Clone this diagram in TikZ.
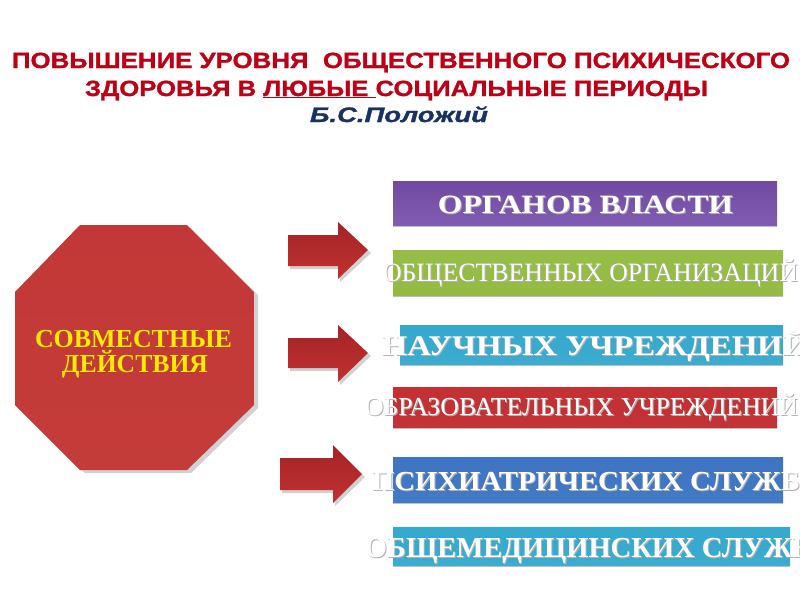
\documentclass[tikz,border=0pt]{standalone}
\usepackage{fontspec}
\usepackage{graphicx}
\setmainfont{Liberation Serif}
\newfontfamily\titlefont{Liberation Sans}[BoldFeatures={FakeBold=1.2},BoldItalicFeatures={FakeBold=1.2}]
\definecolor{titlered}{RGB}{188,0,22}
\definecolor{navy}{RGB}{25,50,100}
\definecolor{octtop}{RGB}{194,56,56}
\definecolor{octmid}{RGB}{155,32,35}
\definecolor{octbot}{RGB}{196,60,58}
\definecolor{arrtop}{RGB}{165,35,38}
\definecolor{arrbot}{RGB}{192,50,48}
\definecolor{yel}{RGB}{255,236,0}
\definecolor{purpA}{RGB}{112,74,160}
\definecolor{purpB}{RGB}{100,64,150}
\definecolor{purpC}{RGB}{128,92,178}
\definecolor{grnA}{RGB}{150,190,70}
\definecolor{grnB}{RGB}{138,178,56}
\definecolor{grnC}{RGB}{148,186,68}
\definecolor{tealA}{RGB}{52,168,205}
\definecolor{tealB}{RGB}{38,155,195}
\definecolor{tealC}{RGB}{60,172,208}
\definecolor{redA}{RGB}{196,48,52}
\definecolor{redB}{RGB}{182,38,44}
\definecolor{redC}{RGB}{194,50,54}
\definecolor{bluA}{RGB}{62,116,194}
\definecolor{bluB}{RGB}{52,104,182}
\definecolor{bluC}{RGB}{66,122,198}
\newcommand\fitw[2]{\resizebox{#1pt}{\height}{#2}}
\newcommand\boxtxt[8]{%
  \node[btxt,text=black!30,font=#6\fontsize{#5}{#5}\selectfont] at (#2+1,#3+1) {\fitw{#4}{#7}};
  \node[btxt,text=white,font=#6\fontsize{#5}{#5}\selectfont] (#1) at (#2,#3) {\fitw{#4}{#7}};}
\tikzset{
  btxt/.style={anchor=base,inner sep=0pt,outer sep=0pt},
  shadowfill/.style={fill=black,opacity=0.18},
}
\begin{document}
\begin{tikzpicture}[x=1pt,y=-1pt]
\useasboundingbox (0,0) rectangle (800,600);
\fill[white] (0,0) rectangle (800,600);
% title
\node[btxt,text=titlered,font=\titlefont\bfseries\fontsize{22}{22}\selectfont] (t1) at (401,68)
  {\fitw{778}{ПОВЫШЕНИЕ УРОВНЯ \ ОБЩЕСТВЕННОГО ПСИХИЧЕСКОГО}};
\node[btxt,text=titlered,font=\titlefont\bfseries\fontsize{22}{22}\selectfont] (t2) at (396.5,96)
  {\fitw{623}{ЗДОРОВЬЯ В \underline{ЛЮБЫЕ\ }СОЦИАЛЬНЫЕ ПЕРИОДЫ}};
\node[btxt,text=navy,font=\titlefont\bfseries\itshape\fontsize{21}{21}\selectfont] (au) at (399,122)
  {\fitw{178}{Б.С.Положий}};
% octagon
\fill[shadowfill] (85,228)--(191,228)--(258,295)--(258,408)--(191,473)--(85,473)--(18,408)--(18,295)--cycle;
\shade[top color=octtop,middle color=octmid,bottom color=octbot]
  (80,225)--(187,225)--(254,292)--(254,405)--(187,470)--(80,470)--(15,405)--(15,292)--cycle;
\node[btxt,text=yel,font=\bfseries\fontsize{26}{26}\selectfont] (oc1) at (133.5,347) {\fitw{197}{СОВМЕСТНЫЕ}};
\node[btxt,text=yel,font=\bfseries\fontsize{26}{26}\selectfont] (oc2) at (135,372) {\fitw{146}{ДЕЙСТВИЯ}};
% arrows
\fill[shadowfill] (290,238)--(340,238)--(340,225)--(371,253)--(340,282)--(340,269)--(290,269)--cycle;
\shade[top color=arrtop,bottom color=arrbot] (288,235)--(338,235)--(338,222)--(368,250)--(338,279)--(338,266)--(288,266)--cycle;
\fill[shadowfill] (290,341)--(340,341)--(340,328)--(371,356)--(340,385)--(340,371)--(290,371)--cycle;
\shade[top color=arrtop,bottom color=arrbot] (288,338)--(338,338)--(338,325)--(368,353)--(338,382)--(338,368)--(288,368)--cycle;
\fill[shadowfill] (282,461)--(335,461)--(335,448)--(365,477)--(335,506)--(335,493)--(282,493)--cycle;
\shade[top color=arrtop,bottom color=arrbot] (280,458)--(333,458)--(333,445)--(362,474)--(333,503)--(333,490)--(280,490)--cycle;
% boxes
\fill[black!25] (393,183) rectangle (777,227);
\shade[top color=purpA,middle color=purpB,bottom color=purpC] (393,181) rectangle (777,225);
\fill[black!25] (393,252) rectangle (783,297);
\shade[top color=grnA,middle color=grnB,bottom color=grnC] (393,250) rectangle (783,295);
\fill[black!25] (400,327) rectangle (783,366);
\shade[top color=tealA,middle color=tealB,bottom color=tealC] (400,325) rectangle (783,364);
\fill[black!25] (393,389) rectangle (777,429);
\shade[top color=redA,middle color=redB,bottom color=redC] (393,387) rectangle (777,427);
\fill[black!25] (393,459) rectangle (783,504);
\shade[top color=bluA,middle color=bluB,bottom color=bluC] (393,457) rectangle (783,502);
\fill[black!25] (393,529) rectangle (790,567);
\shade[top color=tealA,middle color=tealB,bottom color=tealC] (393,527) rectangle (790,565);
% box texts
\boxtxt{b1}{585.5}{213}{295}{26.5}{\bfseries}{ОРГАНОВ ВЛАСТИ}{}
\boxtxt{b2}{590.5}{281}{415}{26.5}{}{ОБЩЕСТВЕННЫХ ОРГАНИЗАЦИЙ}{}
\boxtxt{b3}{595}{355}{426}{28.5}{\bfseries}{НАУЧНЫХ УЧРЕЖДЕНИЙ}{}
\boxtxt{b4}{581.5}{415}{433}{26}{}{ОБРАЗОВАТЕЛЬНЫХ УЧРЕЖДЕНИЙ}{}
\boxtxt{b5}{586}{490}{428}{27.5}{\bfseries}{ПСИХИАТРИЧЕСКИХ СЛУЖБ}{}
\boxtxt{b6}{588}{557}{446}{29}{\bfseries}{ОБЩЕМЕДИЦИНСКИХ СЛУЖБ}{}
\end{tikzpicture}
\end{document}
